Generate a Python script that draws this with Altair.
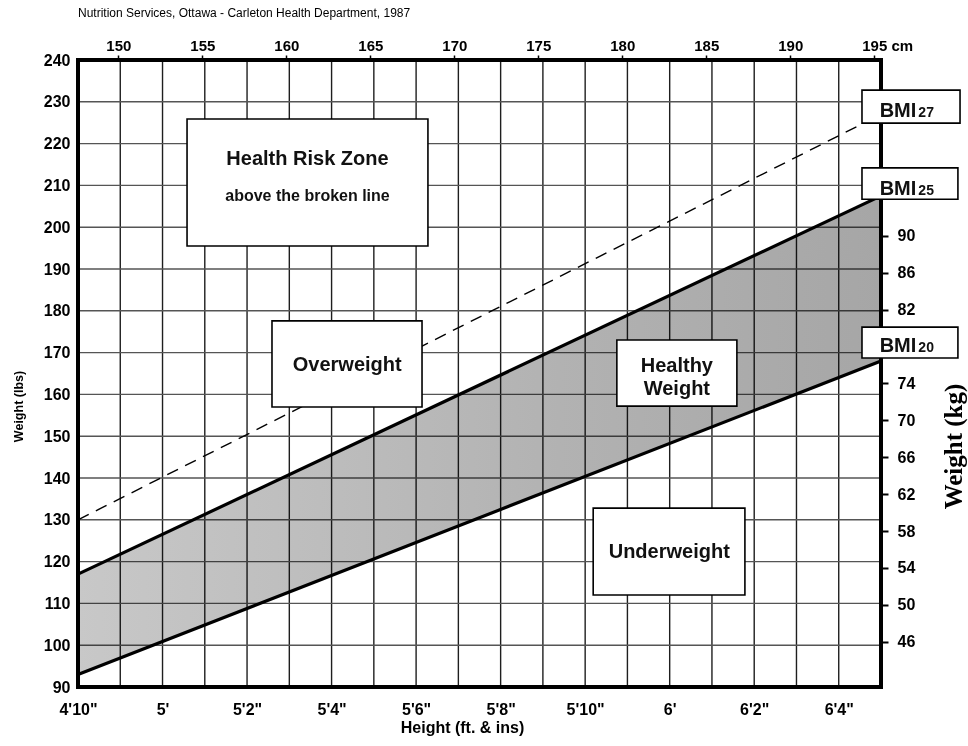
import json
import altair as alt
import pandas as pd

SANS = "Liberation Sans"
SERIF = "Liberation Serif"

# ---- axis domains ----
HEIGHT_DOMAIN = [58, 77]          # inches, 4'10" .. 6'5"
WEIGHT_DOMAIN = [90, 240]         # lbs
CM_DOMAIN = [147.6, 195.4]        # top axis, cm
KG_DOMAIN = [41.1, 109.05]        # right axis, kg

# ---- ticks / labels ----
height_ticks = [58, 60, 62, 64, 66, 68, 70, 72, 74, 76]
height_labels = ["4'10\"", "5'", "5'2\"", "5'4\"", "5'6\"", "5'8\"", "5'10\"", "6'", "6'2\"", "6'4\""]
height_grid = list(range(59, 77))
weight_ticks = list(range(90, 241, 10))
weight_grid = list(range(100, 240, 10))
cm_ticks = [150, 155, 160, 165, 170, 175, 180, 185, 190, 195]
kg_ticks = [46, 50, 54, 58, 62, 66, 70, 74, 82, 86, 90]

# ---- BMI lines: weight (lbs) at the two ends of the height range ----
line_heights = [58, 77]
bmi20 = [93, 168]
bmi25 = [117, 207.5]
bmi27 = [130, 227]

# ---- annotation boxes (data units) ----
box_h1 = [60.58, 62.59, 70.75, 70.19, 76.55, 76.55, 76.55]
box_h2 = [66.28, 66.14, 73.59, 73.78, 78.87, 78.82, 78.82]
box_w1 = [195.5, 157.0, 157.2, 112.0, 224.9, 206.7, 168.7]
box_w2 = [225.9, 177.6, 173.0, 132.8, 232.8, 214.2, 176.1]

zone_text = ["Health Risk Zone", "above the broken line", "Overweight", ["Healthy", "Weight"], "Underweight"]
zone_h = [63.43, 63.43, 64.37, 72.17, 71.99]
zone_w = [216.3, 207.5, 167.0, 166.7, 122.3]
zone_size = [20, 16, 20, 20, 20]

bmi_names = ["27", "25", "20"]
bmi_label_h = [77.86, 77.86, 77.86]
bmi_label_w = [226.4, 207.7, 170.1]

# ---------------- data frames ----------------
lines_df = pd.DataFrame({
    "h": line_heights * 3,
    "w": bmi20 + bmi25 + bmi27,
    "bmi": ["20"] * 2 + ["25"] * 2 + ["27"] * 2,
})
area_df = pd.DataFrame({"h": line_heights, "w": bmi20, "w2": bmi25})
vgrid_df = pd.DataFrame({"h": height_grid, "w": WEIGHT_DOMAIN[0], "w2": WEIGHT_DOMAIN[1]})
hgrid_df = pd.DataFrame({"w": weight_grid, "h": HEIGHT_DOMAIN[0], "h2": HEIGHT_DOMAIN[1]})
frame_df = pd.DataFrame({"h": [HEIGHT_DOMAIN[0]], "h2": [HEIGHT_DOMAIN[1]],
                         "w": [WEIGHT_DOMAIN[0]], "w2": [WEIGHT_DOMAIN[1]]})
box_df = pd.DataFrame({"h": box_h1, "h2": box_h2, "w": box_w1, "w2": box_w2})
zone_df = pd.DataFrame({"h": zone_h, "w": zone_w, "t": zone_text, "fs": zone_size})
bmi_df = pd.DataFrame({"h": bmi_label_h, "w": bmi_label_w, "n": bmi_names})
axis2_df = pd.DataFrame({"cm": CM_DOMAIN, "kg": KG_DOMAIN})

# ---------------- encodings ----------------
label_expr = (
    json.dumps(height_labels) + "[indexof(" + json.dumps(height_ticks) + ", datum.value)]"
)

x_axis = alt.Axis(
    orient="bottom", values=height_ticks, labelExpr=label_expr,
    title="Height (ft. & ins)", grid=False, ticks=False, domain=False,
    labelFont=SANS, labelFontSize=16, labelFontWeight="bold", labelColor="black",
    labelPadding=14, labelFlush=False, labelOverlap=False,
    titleFont=SANS, titleFontSize=16, titleFontWeight="bold", titleColor="black",
    titleX=384, titleY=45, titleAlign="center", titleBaseline="alphabetic",
)
y_axis = alt.Axis(
    orient="left", values=weight_ticks, title="Weight (lbs)",
    grid=False, ticks=False, domain=False,
    labelFont=SANS, labelFontSize=16, labelFontWeight="bold", labelColor="black",
    labelPadding=8, labelOverlap=False,
    titleFont=SANS, titleFontSize=12.5, titleFontWeight="bold", titleColor="black",
    titleAngle=270, titleX=-56, titleY=346, titleAlign="center", titleBaseline="alphabetic",
)

xs = alt.Scale(domain=HEIGHT_DOMAIN, nice=False, zero=False)
ys = alt.Scale(domain=WEIGHT_DOMAIN, nice=False, zero=False)


def X(field="h"):
    return alt.X(f"{field}:Q", scale=xs, axis=x_axis)


def Y(field="w"):
    return alt.Y(f"{field}:Q", scale=ys, axis=y_axis)


def Xn(field="h"):
    return alt.X(f"{field}:Q", scale=xs, axis=None)


def Yn(field="w"):
    return alt.Y(f"{field}:Q", scale=ys, axis=None)


shade = alt.Gradient(
    gradient="linear",
    stops=[alt.GradientStop(color="#c8c8c8", offset=0),
           alt.GradientStop(color="#b2b2b2", offset=0.6),
           alt.GradientStop(color="#a6a6a6", offset=1)],
    x1=0, x2=1, y1=0, y2=0,
)

# grid (drawn first) -- the band multiplies over it so the grid shows through
vgrid = alt.Chart(vgrid_df).mark_rule(color="#1e1e1e", strokeWidth=1.4).encode(
    x=X(), y=Y(), y2="w2")
hgrid = alt.Chart(hgrid_df).mark_rule(color="#555555", strokeWidth=1.4).encode(
    x=X(), x2="h2", y=Y())
grid = alt.layer(vgrid, hgrid)

band = alt.Chart(area_df).mark_area(fill=shade, strokeWidth=0, blend="multiply").encode(
    x=Xn(), y=Yn(), y2="w2")

# lines, frame, boxes, texts
solid = alt.Chart(lines_df).transform_filter("datum.bmi != '27'").mark_line(
    color="black", strokeWidth=3.2).encode(x=Xn(), y=Yn(), detail="bmi:N")
dashed = alt.Chart(lines_df).transform_filter("datum.bmi == '27'").mark_line(
    color="black", strokeWidth=1.4, strokeDash=[12, 8]).encode(x=Xn(), y=Yn())
frame = alt.Chart(frame_df).mark_rect(fillOpacity=0, stroke="black", strokeWidth=4).encode(
    x=Xn(), x2="h2", y=Yn(), y2="w2")
boxes = alt.Chart(box_df).mark_rect(fill="white", stroke="black", strokeWidth=1.6).encode(
    x=Xn(), x2="h2", y=Yn(), y2="w2")
zones = alt.Chart(zone_df).mark_text(
    font=SANS, fontWeight="bold", color="#111111", align="center", baseline="middle",
    lineHeight=23).encode(x=Xn(), y=Yn(), text="t", size=alt.Size("fs:Q", scale=None))
bmi_word = alt.Chart(bmi_df).mark_text(
    font=SANS, fontWeight="bold", fontSize=20, color="#111111", align="right",
    baseline="alphabetic", dx=-1, text="BMI").encode(x=Xn(), y=Yn())
bmi_num = alt.Chart(bmi_df).mark_text(
    font=SANS, fontWeight="bold", fontSize=14, color="#111111", align="left",
    baseline="alphabetic", dx=1).encode(x=Xn(), y=Yn(), text="n:N")
top = alt.layer(solid, dashed, frame, boxes, zones, bmi_word, bmi_num)

# cm (top) and kg (right) axes
axis2 = alt.Chart(axis2_df).mark_point(opacity=0).encode(
    x=alt.X("cm:Q", scale=alt.Scale(domain=CM_DOMAIN, nice=False, zero=False),
            axis=alt.Axis(
                orient="top", values=cm_ticks, title=None, grid=False, domain=False,
                labelExpr="datum.value == 195 ? '195 cm' : datum.label",
                labelAlign={"condition": {"test": "datum.value == 195", "value": "left"}, "value": "center"},
                labelOffset={"condition": {"test": "datum.value == 195", "value": -12.5}, "value": 0},
                tickSize=5, tickWidth=1.5, tickColor="black",
                labelFont=SANS, labelFontSize=15, labelFontWeight="bold", labelColor="black",
                labelPadding=2, labelFlush=False, labelOverlap=False)),
    y=alt.Y("kg:Q", scale=alt.Scale(domain=KG_DOMAIN, nice=False, zero=False),
            axis=alt.Axis(
                orient="right", values=kg_ticks, title="Weight (kg)", grid=False, domain=False,
                tickSize=7, tickWidth=2, tickColor="black",
                labelFont=SANS, labelFontSize=16, labelFontWeight="bold", labelColor="black",
                labelPadding=9, labelOverlap=False,
                titleFont=SERIF, titleFontSize=25, titleFontWeight="bold", titleColor="black",
                titleAngle=270, titleX=80.5, titleY=386, titleAlign="center",
                titleBaseline="alphabetic")),
)

chart = alt.layer(grid, band, top, axis2).resolve_scale(x="independent", y="independent").properties(
    width=803, height=627,
    padding={"left": 78, "top": 60, "right": 87, "bottom": 59},
    autosize=alt.AutoSizeParams(type="none"),
    background="white",
    title=alt.TitleParams(
        text="Nutrition Services, Ottawa - Carleton Health Department, 1987",
        anchor="start", frame="group", font=SANS, fontSize=12, fontWeight="normal",
        color="black", offset=18),
).configure_view(strokeWidth=0)

chart.save("out.html", embed_options={"renderer": "svg", "actions": False})
